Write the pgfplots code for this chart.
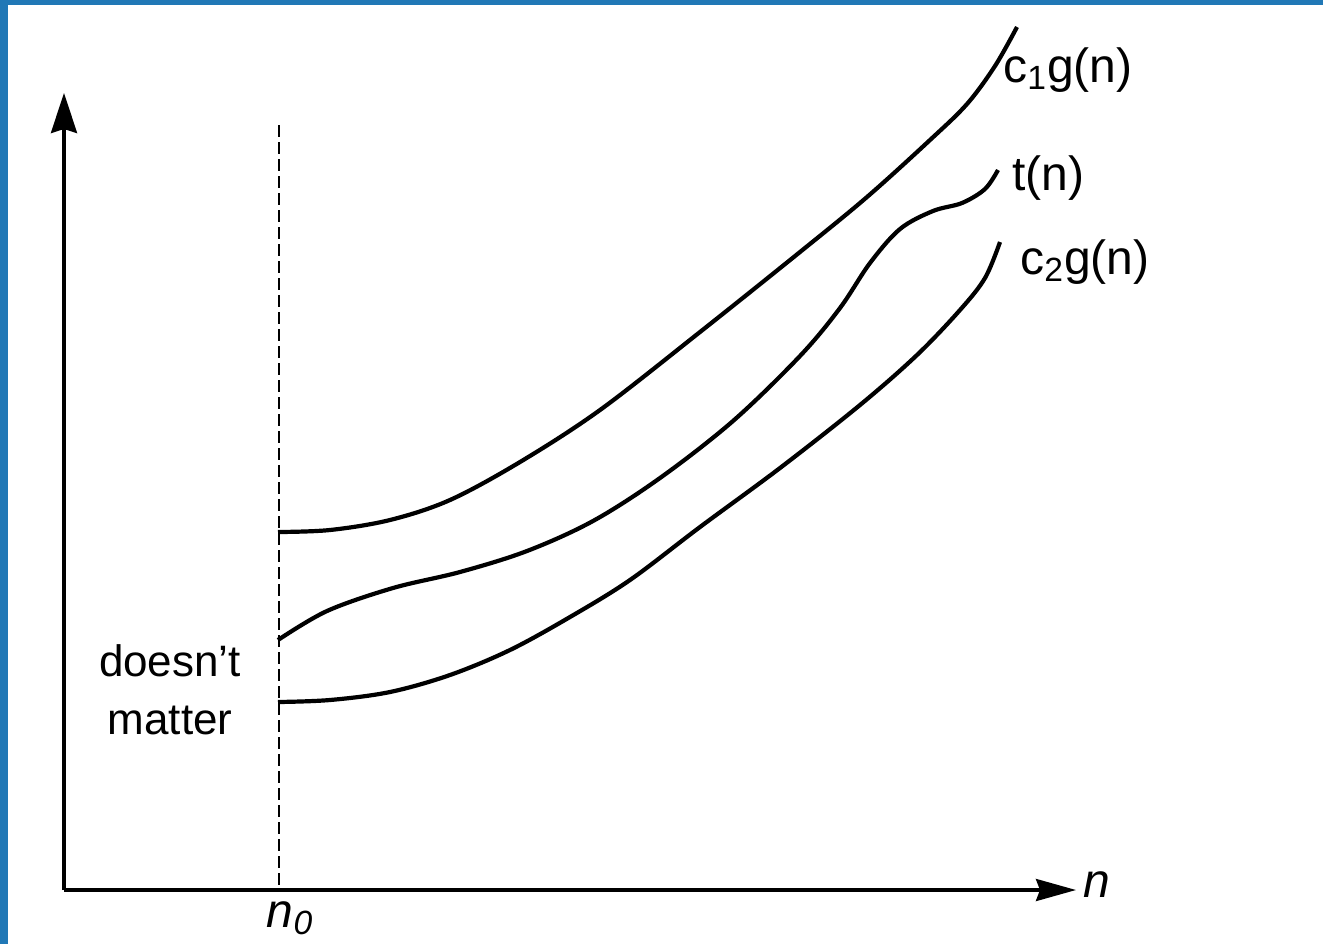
\documentclass[border=0pt]{standalone}
\usepackage{pgfplots}
\pgfplotsset{compat=1.18}
\usepackage{fontspec}
\setmainfont{Liberation Sans}
\usetikzlibrary{arrows.meta}
\definecolor{frameblue}{RGB}{33,120,182}
\begin{document}
\begin{tikzpicture}
\begin{axis}[
  width=661.5pt, height=472pt, scale only axis,
  xmin=0, xmax=1323, ymin=0, ymax=944, y dir=reverse,
  axis lines=none, clip=false,
]
\fill[white] (axis cs:0,0) rectangle (axis cs:1323,944);
\fill[frameblue] (axis cs:0,0) rectangle (axis cs:7.5,944);
\fill[frameblue] (axis cs:0,0) rectangle (axis cs:1323,4.5);
% axes
\addplot[black, line width=1.7pt, -{Stealth[length=20pt,width=13pt,inset=2pt]}] coordinates {(64,890) (64,93)};
\addplot[black, line width=1.7pt, -{Stealth[length=20pt,width=11pt,inset=2pt]}] coordinates {(64,890) (1076,890)};
% n0 dashed
\addplot[black, line width=0.7pt, dash pattern=on 6pt off 2.5pt] coordinates {(279,125) (279,890)};
% c1 g(n)
\addplot[black, line width=2.1pt, smooth, tension=0.55] coordinates {
(278,532) (330,530) (390,520) (450,500) (520,462) (600,410) (700,332) (800,252) (867,197) (930,140) (967,104) (995,66) (1017,27)};
% t(n)
\addplot[black, line width=2.1pt, smooth, tension=0.55] coordinates {
(278,640) (327,611) (393,588) (460,572) (527,551) (593,521) (660,478) (733,421) (800,356) (840,308) (870,263) (900,229) (933,211) (962,203) (985,189) (998,170)};
% c2 g(n)
\addplot[black, line width=2.1pt, smooth, tension=0.55] coordinates {
(278,702) (330,700) (390,692) (450,675) (510,650) (570,617) (630,580) (700,527) (780,468) (860,405) (917,355) (960,310) (985,278) (1000,242)};
% labels
\node[anchor=west, inner sep=0pt, font=\fontsize{24}{29}\selectfont] at (axis cs:1003,70) {c\textsubscript{1}g(n)};
\node[anchor=west, inner sep=0pt, font=\fontsize{24}{29}\selectfont] at (axis cs:1012,178) {t(n)};
\node[anchor=west, inner sep=0pt, font=\fontsize{24}{29}\selectfont] at (axis cs:1020,262) {c\textsubscript{2}g(n)};
\node[align=center, inner sep=0pt, font=\fontsize{22}{29}\selectfont] at (axis cs:170,690) {doesn't\\matter};
\node[inner sep=0pt, font=\fontsize{24}{29}\selectfont\itshape] at (axis cs:290,918) {n\textsubscript{0}};
\node[anchor=west, inner sep=0pt, font=\fontsize{24}{29}\selectfont\itshape] at (axis cs:1083,885) {n};
\end{axis}
\end{tikzpicture}
\end{document}
